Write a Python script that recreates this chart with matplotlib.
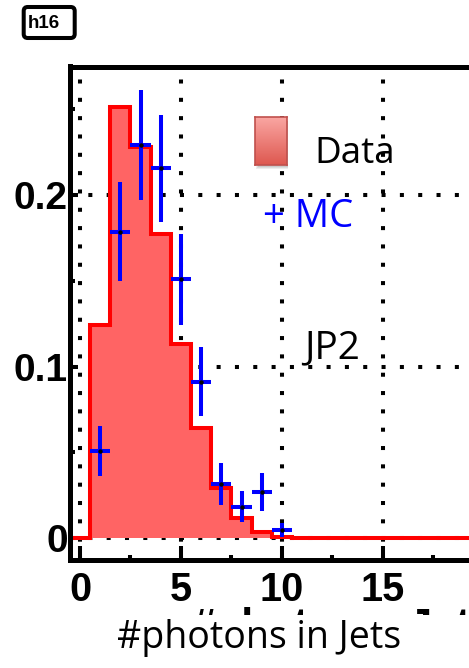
import numpy as np
import matplotlib
matplotlib.use("Agg")
import matplotlib.pyplot as plt
from matplotlib.patches import Rectangle, FancyBboxPatch
from matplotlib.transforms import IdentityTransform

# ---- data -------------------------------------------------------------
bin_edges = np.arange(-0.5, 21.0, 1.0)          # 21 unit-width bins centred on 0..20
data_counts = [0.0, 0.124, 0.251, 0.228, 0.177, 0.113, 0.064, 0.029, 0.0115,
               0.0037, 0.0006, 0.0003, 0.0002, 0.0001, 0.0, 0.0, 0.0, 0.0,
               0.0, 0.0, 0.0]
mc_x = [1, 2, 3, 4, 5, 6, 7, 8, 9, 10]
mc_y = [0.0507, 0.1786, 0.229, 0.2155, 0.1508, 0.0912, 0.0315, 0.0183, 0.027, 0.0047]
mc_err = [0.0146, 0.0287, 0.032, 0.031, 0.0267, 0.0203, 0.0122, 0.009, 0.011, 0.0043]

x_major = [0, 5, 10, 15]
x_grid = [0, 5, 10, 15, 20]
x_minor = [2.5, 7.5, 12.5, 17.5]
y_major = [0, 0.1, 0.2]
y_minor = [0.05, 0.15, 0.25]
x_labels = ["0", "5", "10", "15"]
y_labels = ["0", "0.1", "0.2"]

W, H = 469, 668

plt.rcParams["font.family"] = ["Liberation Sans", "DejaVu Sans"]
plt.rcParams["font.weight"] = "bold"
plt.rcParams["xtick.labelsize"] = 28.5
plt.rcParams["ytick.labelsize"] = 28


def fx(x):
    return x / W


def fy(y):
    return 1 - y / H


fig = plt.figure(figsize=(W / 100, H / 100), dpi=100)
fig.patch.set_facecolor("white")

# main frame (extends past the right edge of the canvas)
left_px, right_px, top_px, bot_px = 69.9, 494.0, 66.5, 560.0
ax = fig.add_axes([fx(left_px), fy(bot_px), (right_px - left_px) / W,
                   (bot_px - top_px) / H])
ax.set_xlim(-0.5, 20.5)
ax.set_ylim(-0.0128, 0.2749)

for s in ax.spines.values():
    s.set_linewidth(3.6)
ax.spines["right"].set_visible(False)

# dotted grid drawn behind everything
grid_style = dict(color="black", linewidth=2.9, linestyle=(0, (1, 3.55)),
                  dash_capstyle="butt", zorder=0.5)
for gx in x_grid:
    ax.axvline(gx, **grid_style)
for gy in y_major:
    ax.axhline(gy, **grid_style)

ax.set_xticks(x_major)
ax.set_xticks(x_minor, minor=True)
ax.set_yticks(y_major)
ax.set_yticks(y_minor, minor=True)
ax.set_xticklabels(x_labels)
ax.set_yticklabels(y_labels)
ax.tick_params(axis="both", which="both", direction="in", width=2.9,
               top=False, right=False)
ax.tick_params(axis="x", which="major", length=10, pad=8)
ax.tick_params(axis="x", which="minor", length=3.6)
ax.tick_params(axis="y", which="major", length=6, pad=1.5)
ax.tick_params(axis="y", which="minor", length=3.6)

# Data histogram: filled area plus step outline
ax.stairs(data_counts, bin_edges, fill=True, facecolor="#ff6464",
          linewidth=0, zorder=1)
ax.stairs(data_counts, bin_edges, baseline=None, color="#ff0000",
          linewidth=2.9, zorder=2)

# MC points with error bars
ax.errorbar(mc_x, mc_y, yerr=mc_err, xerr=0.5, fmt="none", ecolor="#0000ff",
            elinewidth=2.9, capsize=0, zorder=3)
ax.plot(mc_x, mc_y, "o", color="black", markersize=2.2, zorder=4)

# strip along the left edge that trims the y labels
fig.patches.append(Rectangle((0, fy(560)), fx(14), fy(60) - fy(560),
                             transform=fig.transFigure, facecolor="white",
                             edgecolor="none", zorder=10))

# bold axis title, mostly hidden under the caption box
fig.text(fx(191), fy(638), "#photons_Jets", fontfamily="Liberation Sans",
         fontweight="bold", fontsize=31, ha="left", va="baseline", zorder=1)
fig.patches.append(Rectangle((0, 0), 1, fy(615), transform=fig.transFigure,
                             facecolor="white", edgecolor="none", zorder=2))
fig.text(fx(259), fy(648), "#photons in Jets", fontfamily="Open Sans",
         fontweight="normal", fontsize=27, ha="center", va="baseline",
         color="black", zorder=3)

# histogram name box
fig.patches.append(FancyBboxPatch((23.7, H - 38), 51, 31,
                                  boxstyle="round,pad=0,rounding_size=4",
                                  transform=IdentityTransform(),
                                  facecolor="white", edgecolor="black",
                                  linewidth=2.9, zorder=5))
fig.text(fx(28), fy(28), "h16", fontfamily="Liberation Sans",
         fontweight="bold", fontsize=13.5, ha="left", va="baseline", zorder=6)

# legend swatch with soft shadow and vertical gradient
for i, a in enumerate([0.10, 0.10, 0.12]):
    fig.patches.append(Rectangle((255 + 1 + i, H - 165 - 4 + i), 32 - i, 48 - i,
                                 transform=IdentityTransform(),
                                 facecolor="#505050", alpha=a,
                                 edgecolor="none", zorder=5))
sw = fig.add_axes([fx(255), fy(165), 32 / W, 48 / H], zorder=6)
grad = np.linspace(0, 1, 64)[:, None]
top_c = np.array([250, 166, 162]) / 255
bot_c = np.array([222, 88, 80]) / 255
img = top_c[None, None, :] * (1 - grad[:, :, None]) + bot_c[None, None, :] * grad[:, :, None]
sw.imshow(np.repeat(img, 8, axis=1), aspect="auto", extent=(0, 1, 0, 1))
sw.set_xticks([])
sw.set_yticks([])
for s in sw.spines.values():
    s.set_color("#c0504d")
    s.set_linewidth(1.2)

fig.text(fx(314), fy(163.3), "Data", fontfamily="Open Sans",
         fontweight="normal", fontsize=26.5, ha="left", va="baseline",
         color="black", zorder=7)
fig.text(fx(263), fy(226.7), "+ MC", fontfamily="Open Sans",
         fontweight="normal", fontsize=27.5, ha="left", va="baseline",
         color="#0000ff", zorder=7)
fig.text(fx(304), fy(358), "JP2", fontfamily="Open Sans",
         fontweight="normal", fontsize=28, ha="left", va="baseline",
         color="black", zorder=7)

fig.savefig("out.png", dpi=100)
